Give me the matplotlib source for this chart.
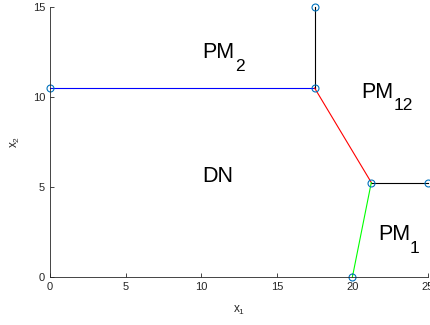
import matplotlib
matplotlib.use("Agg")
import matplotlib.pyplot as plt

plt.rcParams["font.family"] = ["Liberation Sans", "DejaVu Sans"]
plt.rcParams["mathtext.fontset"] = "custom"
plt.rcParams["mathtext.rm"] = "Liberation Sans"
plt.rcParams["mathtext.it"] = "Liberation Sans:italic"

# boundary segments: (x0, x1), (y0, y1), colour
seg_x = [(0, 17.5), (17.5, 17.5), (17.5, 21.25), (21.25, 25), (20, 21.25)]
seg_y = [(10.5, 10.5), (10.5, 15), (10.5, 5.25), (5.25, 5.25), (0, 5.25)]
seg_colors = ["#0000ff", "black", "red", "black", "#00ff00"]

# vertices
pts_x = [0, 17.5, 17.5, 21.25, 25, 20]
pts_y = [10.5, 10.5, 15, 5.25, 5.25, 0]

# region labels (main text + subscript, MATLAB tex style)
region_names = ["PM", "PM", "DN", "PM"]
region_subs = ["2", "12", "", "1"]
region_x = [10.1, 20.6, 10.1, 21.7]
region_y = [12.17, 9.94, 5.28, 2.06]
sub_x = [12.25, 22.7, 0, 23.8]
sub_y = [11.44, 9.28, 0, 1.33]

x_ticks = [0, 5, 10, 15, 20, 25]
y_ticks = [0, 5, 10, 15]

fig = plt.figure(figsize=(4.31, 3.25), dpi=100)
ax = fig.add_axes([50 / 431, 48 / 325, 378 / 431, 270 / 325])

for xs, ys, c in zip(seg_x, seg_y, seg_colors):
    ax.plot(xs, ys, color=c, linewidth=0.8)

ax.plot(pts_x, pts_y, linestyle="none", marker="o", markersize=5,
        markerfacecolor="none", markeredgecolor="#0072BD", markeredgewidth=0.8)

for name, sub, tx, ty, sx, sy in zip(region_names, region_subs, region_x,
                                     region_y, sub_x, sub_y):
    ax.text(tx, ty, name, fontsize=15.5, ha="left", va="baseline")
    if sub:
        ax.text(sx, sy, sub, fontsize=12.5, ha="left", va="baseline")

ax.set_xlim(0, 25)
ax.set_ylim(0, 15)
ax.set_xticks(x_ticks)
ax.set_yticks(y_ticks)
ax.tick_params(direction="in", length=3, width=0.6, labelsize=8,
               colors="#262626")
for side in ["top", "right"]:
    ax.spines[side].set_visible(False)
for side in ["left", "bottom"]:
    ax.spines[side].set_color("#262626")
    ax.spines[side].set_linewidth(0.6)

ax.set_xlabel("x$_1$", fontsize=8.5, color="#262626", labelpad=9)
ax.set_ylabel("x$_2$", fontsize=8.5, color="#262626", labelpad=8)
for a in ax.get_children():
    a.set_clip_on(False)

fig.savefig("out.png", dpi=100)
